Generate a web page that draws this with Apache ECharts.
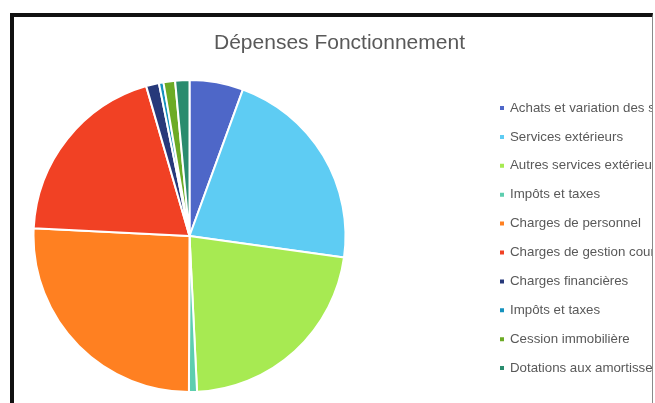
<!DOCTYPE html>
<html>
<head>
<meta charset="utf-8">
<script src="https://cdn.jsdelivr.net/npm/echarts@6/dist/echarts.min.js"></script>
<style>
  html, body { margin: 0; padding: 0; width: 655px; height: 403px; overflow: hidden; background: #ffffff; }
  #frame {
    position: absolute; left: 10px; top: 13px;
    width: 638px; height: 400px;
    border-top: 4px solid #111; border-left: 4px solid #111; border-right: 1px solid #8a8a8a;
    overflow: hidden; background: #fff;
  }
  #chart { width: 638px; height: 400px; }
</style>
</head>
<body>
<div id="frame"><div id="chart"></div></div>
<script>
const title = "Dépenses Fonctionnement";
const categories = [
  "Achats et variation des stocks",
  "Services extérieurs",
  "Autres services extérieurs",
  "Impôts et taxes",
  "Charges de personnel",
  "Charges de gestion courante",
  "Charges financières",
  "Impôts et taxes",
  "Cession immobilière",
  "Dotations aux amortissements"
];
const values = [5.56, 21.6, 22.0, 0.83, 25.7, 19.7, 1.33, 0.47, 1.2, 1.47];
const colors = ["#4E67C8", "#5ECCF3", "#A7EA52", "#5DCEAF", "#FF8021", "#F14124",
                "#27397A", "#1592BE", "#6CAB25", "#2A8C6E"];

// unique keys so that duplicate labels stay separate legend entries
const keyOf = (i) => i + "|" + categories[i];
const labelOf = (key) => key.slice(key.indexOf("|") + 1);

const chart = echarts.init(document.getElementById('chart'), null, { renderer: 'canvas' });
chart.setOption({
  animation: false,
  color: colors,
  title: {
    text: title,
    left: 200,
    top: 16,
    padding: 0,
    textStyle: { fontFamily: "Liberation Sans", fontSize: 21, fontWeight: 'normal', color: '#595959' }
  },
  legend: {
    orient: 'vertical',
    left: 484,
    top: 83,
    padding: 0,
    itemWidth: 6,
    itemHeight: 6,
    itemGap: 12.9,
    icon: 'rect',
    selectedMode: false,
    data: categories.map((c, i) => keyOf(i)),
    formatter: (name) => labelOf(name),
    textStyle: { fontFamily: "Liberation Sans", fontSize: 13.3, color: '#595959', lineHeight: 16 }
  },
  series: [{
    type: 'pie',
    center: [175.5, 219],
    radius: 156,
    startAngle: 90,
    clockwise: true,
    label: { show: false },
    labelLine: { show: false },
    emphasis: { disabled: true },
    itemStyle: { borderColor: '#ffffff', borderWidth: 2 },
    data: values.map((v, i) => ({ name: keyOf(i), value: v }))
  }]
});
</script>
</body>
</html>
